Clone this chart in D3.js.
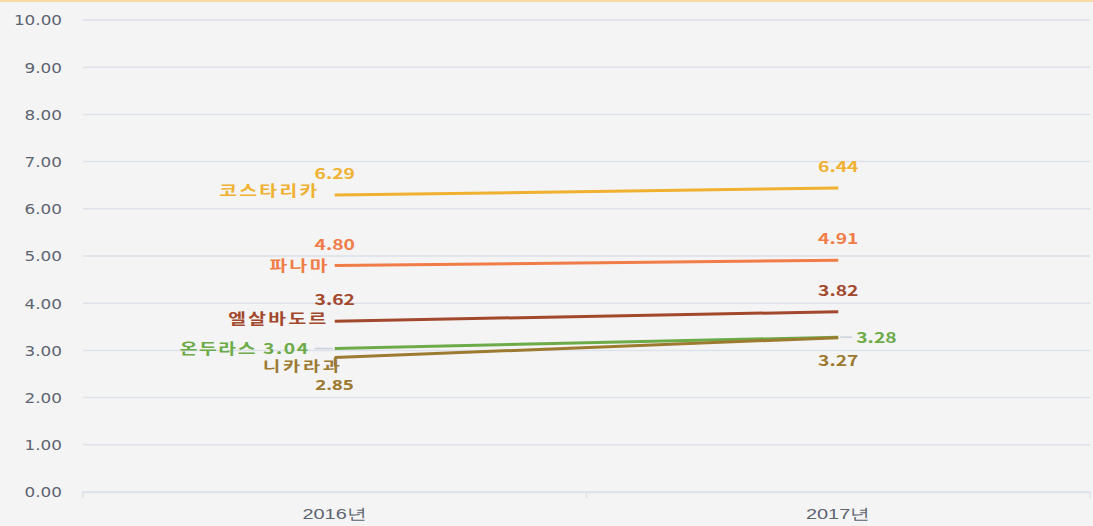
<!DOCTYPE html>
<html><head><meta charset="utf-8">
<script src="https://cdn.jsdelivr.net/npm/d3@7"></script>
<style>
html,body{margin:0;padding:0;background:#f4f4f4;}
svg{display:block;font-family:"Noto Sans CJK KR","Noto Sans",sans-serif;}
</style></head><body>
<svg id="c" width="1093" height="526"></svg>
<script>
const categories = ["2016년", "2017년"];
const seriesNames = ["코스타리카", "파나마", "엘살바도르", "온두라스", "니카라과"];
const costaRica = [6.29, 6.44];
const panama = [4.80, 4.91];
const elSalvador = [3.62, 3.82];
const honduras = [3.04, 3.28];
const nicaragua = [2.85, 3.27];
const yTicks = [0, 1, 2, 3, 4, 5, 6, 7, 8, 9, 10];
const colors = ["#f0b030", "#f07c48", "#a2482c", "#6cab48", "#9c7a30"];

const series = [costaRica, panama, elSalvador, honduras, nicaragua].map((v, i) => ({name: seriesNames[i], values: v, color: colors[i]}));

const svg = d3.select("#c");
const W = 1093, H = 526;
const m = {left: 83, right: 3, top: 20, bottom: 34};
const SX = 1.33; // horizontal stretch of text

svg.append("rect").attr("width", W).attr("height", H).attr("fill", "#f4f4f4");
svg.append("rect").attr("width", W).attr("height", 2).attr("fill", "#f7d9a8");

const x = d3.scaleBand().domain(categories).range([m.left, W - m.right]);
const y = d3.scaleLinear().domain([0, 10]).range([H - m.bottom, m.top]);

// gridlines
svg.append("g").selectAll("line").data(yTicks).join("line")
  .attr("x1", m.left).attr("x2", W - m.right)
  .attr("y1", d => y(d)).attr("y2", d => y(d))
  .attr("stroke", "#dde2ea").attr("stroke-width", 1.5);

// y axis labels
const yAxis = d3.axisLeft(y).tickValues(yTicks).tickFormat(d3.format(".2f")).tickSize(0).tickPadding(0);
const yg = svg.append("g").attr("transform", `translate(${m.left - 21},0)`).call(yAxis);
yg.select(".domain").remove();
yg.selectAll(".tick text")
  .attr("x", null).attr("dy", "0.35em")
  .attr("fill", "#5d6472")
  .style("font-size", "14px")
  .style("font-family", "'DejaVu Sans', sans-serif")
  .attr("text-anchor", "end")
  .attr("transform", "scale(1.2,1)");

// x axis
const xAxis = d3.axisBottom(x).tickSize(0).tickPadding(16);
const xg = svg.append("g").attr("transform", `translate(0,${y(0)})`).call(xAxis);
xg.select(".domain").attr("stroke", "#dde2ea").attr("stroke-width", 1.5);
xg.selectAll(".tick text").attr("fill", "#5d6472").style("font-size", "15px").attr("transform", `scale(${SX},1)`);
const bounds = [m.left, x(categories[1]), W - m.right];
xg.selectAll(".btick").data(bounds).join("line").attr("class", "btick")
  .attr("x1", d => d).attr("x2", d => d).attr("y1", 0).attr("y2", 6)
  .attr("stroke", "#dde2ea").attr("stroke-width", 1.5);

const cx = c => x(c) + x.bandwidth() / 2;

// lines
const line = d3.line().x((d, i) => cx(categories[i])).y(d => y(d));
svg.append("g").selectAll("path").data(series).join("path")
  .attr("d", d => line(d.values)).attr("fill", "none")
  .attr("stroke", d => d.color).attr("stroke-width", 3);

const fmt = d3.format(".2f");
const lab = svg.append("g").attr("font-size", 14.5).attr("font-weight", 700);
function txt(px, py, anchor, color, s, ls, fs, ff) {
  const t = lab.append("text").attr("transform", `translate(${px},${py}) scale(${SX},1)`)
    .attr("dy", "0.35em").attr("text-anchor", anchor).attr("fill", color)
    .attr("font-size", fs || 14.5)
    .attr("letter-spacing", ls || 0).text(s);
  if (ff) t.attr("font-family", ff);
}
const x0 = cx(categories[0]), x1 = cx(categories[1]);

// label offsets (layout only)
const nameDx = [-15, -5, -6];
const nameDy = [-4, 0, -2];
const LS = 1.8;

// 2016 labels
series.forEach((s, i) => {
  const v = s.values[0];
  if (i < 3) {
    txt(x0 + nameDx[i], y(v) + nameDy[i], "end", s.color, s.name, LS);
    txt(x0, y(v) - 21, "middle", s.color, fmt(v));
  } else if (i === 3) {
    svg.append("line").attr("x1", x0 - 20).attr("x2", x0 - 2).attr("y1", y(v)).attr("y2", y(v)).attr("stroke", "#c8d0dc").attr("stroke-width", 1.5);
    txt(x0 - 25, y(v), "end", s.color, s.name + " " + fmt(v), 1.2);
  } else {
    svg.append("line").attr("x1", x0).attr("x2", x0).attr("y1", y(v)).attr("y2", y(v) + 9).attr("stroke", s.color).attr("stroke-width", 2);
    txt(x0 + 8, y(v) + 9, "end", s.color, s.name, 2.1, 14);
    txt(x0, y(v) + 27.5, "middle", s.color, fmt(v), 0.3, 14, "'Noto Sans', sans-serif");
  }
});

// 2017 labels
series.forEach((s, i) => {
  const v = s.values[1];
  if (i < 3) {
    txt(x1, y(v) - 21, "middle", s.color, fmt(v));
  } else if (i === 3) {
    svg.append("line").attr("x1", x1 + 2).attr("x2", x1 + 14).attr("y1", y(v)).attr("y2", y(v)).attr("stroke", "#c8d0dc").attr("stroke-width", 1.5);
    txt(x1 + 18, y(v) + 1, "start", s.color, fmt(v));
  } else {
    txt(x1, y(v) + 23, "middle", s.color, fmt(v));
  }
});
</script>
</body></html>
